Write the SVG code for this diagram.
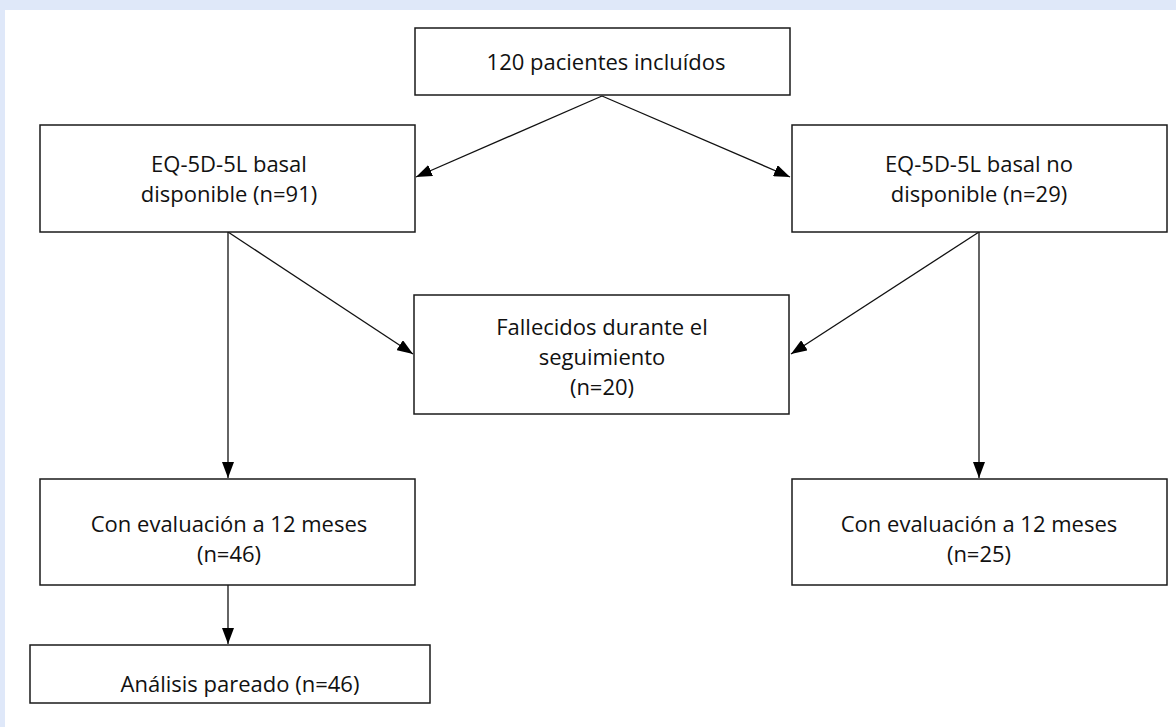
<svg xmlns="http://www.w3.org/2000/svg" width="1176" height="727" viewBox="0 0 1176 727">
<style>
.box{fill:#fff;stroke:#1a1a1a;stroke-width:1.5}
.t{font-family:"Open Sans","Liberation Sans",sans-serif;font-size:22px;fill:#111;text-anchor:middle}
.c{stroke:#111;stroke-width:1.3;fill:none;marker-end:url(#ah)}
</style>
<defs>
<marker id="ah" markerWidth="16" markerHeight="12" refX="16" refY="6" orient="auto" markerUnits="userSpaceOnUse">
<path d="M0,0 L16,6 L0,12 Z" fill="#000"/>
</marker>
</defs>
<rect x="0" y="0" width="1176" height="727" fill="#dfe8f9"/>
<rect x="5" y="10" width="1171" height="717" fill="#fff"/>
<g id="connectors">
<line class="c" x1="602" y1="96" x2="416" y2="177"/>
<line class="c" x1="602" y1="96" x2="790" y2="177"/>
<line class="c" x1="228" y1="232" x2="228" y2="478"/>
<line class="c" x1="228" y1="232" x2="413" y2="354"/>
<line class="c" x1="979" y1="232" x2="979" y2="478"/>
<line class="c" x1="979" y1="232" x2="791" y2="354"/>
<line class="c" x1="228" y1="585" x2="228" y2="644"/>
</g>
<g id="n1"><rect class="box" x="415" y="28" width="375" height="67"/><text class="t" x="606" y="70">120 pacientes incluídos</text></g>
<g id="n2"><rect class="box" x="40" y="125" width="375" height="107"/><text class="t" x="229" y="172">EQ-5D-5L basal</text><text class="t" x="229" y="202">disponible (n=91)</text></g>
<g id="n3"><rect class="box" x="792" y="125" width="375" height="107"/><text class="t" x="979" y="172">EQ-5D-5L basal no</text><text class="t" x="979" y="202">disponible (n=29)</text></g>
<g id="n4"><rect class="box" x="414" y="295" width="375" height="119"/><text class="t" x="602" y="335">Fallecidos durante el</text><text class="t" x="602" y="365">seguimiento</text><text class="t" x="602" y="395">(n=20)</text></g>
<g id="n5"><rect class="box" x="40" y="479" width="375" height="106"/><text class="t" x="229" y="532">Con evaluación a 12 meses</text><text class="t" x="229" y="562">(n=46)</text></g>
<g id="n6"><rect class="box" x="792" y="479" width="375" height="106"/><text class="t" x="979" y="532">Con evaluación a 12 meses</text><text class="t" x="979" y="562">(n=25)</text></g>
<g id="n7"><rect class="box" x="30" y="645" width="400" height="58"/><text class="t" x="240" y="692">Análisis pareado (n=46)</text></g>
</svg>
